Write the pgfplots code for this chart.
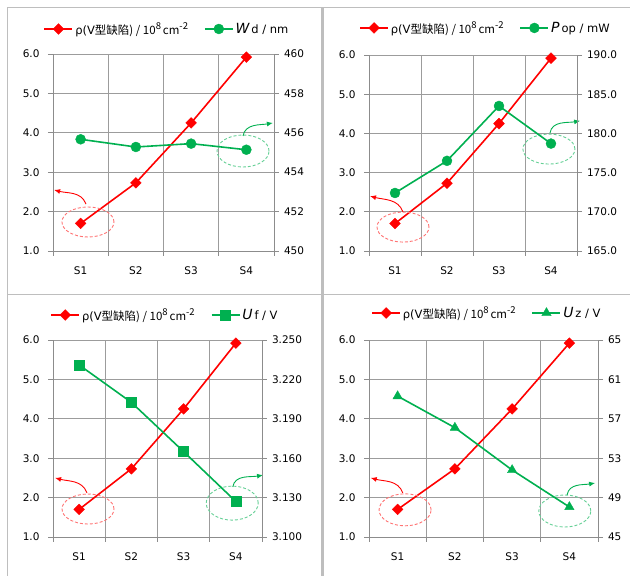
\documentclass[border=0pt]{standalone}
\usepackage{fontspec}
\setmainfont{DejaVu Sans}
\newfontfamily\cjk{Noto Sans CJK SC}
\usepackage{pgfplots}
\pgfplotsset{compat=1.18}
\usetikzlibrary{arrows.meta}
\definecolor{xlgreen}{HTML}{00B050}
\definecolor{gridgray}{HTML}{9C9C9C}
\definecolor{axisgray}{HTML}{8C8C8C}
\definecolor{bordergray}{HTML}{BEBEBE}

\pgfplotsset{
  panel/.style={
    scale only axis, clip=false,
    xmin=0, xmax=4,
    tick label style={font=\fontsize{10.5}{12}\selectfont, text=black},
    /pgf/number format/assume math mode=true,
    major tick length=5pt, minor tick length=5pt,
    tick align=outside,
    every tick/.style={draw=axisgray, line width=0.8pt},
    axis line style={draw=axisgray, line width=0.8pt},
  },
  leftax/.style={
    panel,
    axis x line*=bottom, axis y line*=left,
    ymin=1, ymax=6, ytick={1,2,3,4,5,6},
    yticklabel style={/pgf/number format/fixed,/pgf/number format/fixed zerofill,/pgf/number format/precision=1, xshift=-5pt},
    xtick={0.5,1.5,2.5,3.5}, xticklabels={S1,S2,S3,S4},
    xtick style={draw=none},
    xticklabel style={yshift=-7pt},
    minor xtick={0,1,2,3,4},
    minor x tick style={draw=axisgray, line width=0.8pt},
    ymajorgrids=true, xminorgrids=true, xmajorgrids=false,
    major grid style={draw=gridgray, line width=0.8pt},
    minor grid style={draw=gridgray, line width=0.8pt},
  },
  rightax/.style={
    panel,
    axis x line=none, axis y line*=right,
    xtick=\empty,
    yticklabel style={xshift=1.5pt},
    legend style={draw=none, fill=none, legend columns=2, anchor=center,
      font=\fontsize{11.5}{13}\selectfont,
      /tikz/every even column/.append style={column sep=14pt}},
    legend cell align=left,
    legend image code/.code={\draw[mark repeat=2,mark phase=2,##1] plot coordinates {(0pt,0pt)(14pt,0pt)(28pt,0pt)};},
  },
  redplot/.style={draw=red, line width=1.6pt, mark=square*, mark size=3.8pt,
    mark options={rotate=45, fill=red, draw=red, solid, line width=0.4pt}},
  greenplot/.style={draw=xlgreen, line width=1.6pt,
    mark options={fill=xlgreen, draw=xlgreen, solid, line width=0.4pt}},
}
\tikzset{
  redell/.style={draw=red!55, dash pattern=on 3pt off 2pt, line width=0.9pt},
  greenell/.style={draw=xlgreen!60, dash pattern=on 3pt off 2pt, line width=0.9pt},
  redarr/.style={draw=red, line width=0.9pt, -{Latex[length=6pt,width=5pt]}},
  greenarr/.style={draw=xlgreen, line width=0.9pt, -{Latex[length=6pt,width=5pt]}},
}
\newcommand{\sups}[1]{\raisebox{0.42em}{\fontsize{9.5}{9.5}\selectfont #1}}
\newcommand{\rholabel}{ρ(V\cjk{型缺陷}) / 10\sups{8}\,cm\sups{-2}}
\newcommand{\sym}[1]{{\fontsize{14}{14}\selectfont\itshape #1}\,}

\begin{document}
\begin{tikzpicture}
\path[use as bounding box] (0,0) rectangle (630pt,576pt);
% borders
\draw[bordergray, line width=1pt] (7pt,568pt) -- (630pt,568pt);
\draw[bordergray, line width=1pt] (7.5pt,568pt) -- (7.5pt,0pt);
\draw[bordergray, line width=1.5pt] (7pt,281.5pt) -- (630pt,281.5pt);
\draw[bordergray, line width=3.5pt] (322.5pt,568pt) -- (322.5pt,0pt);

% ---------- Panel 1 ----------
\begin{axis}[leftax, at={(53pt,325pt)}, anchor=south west, width=221pt, height=197pt]
\addplot[redplot] coordinates {(0.5,1.70)(1.5,2.73)(2.5,4.25)(3.5,5.92)};
\draw[redell] (axis cs:0.633,1.736) ellipse [x radius=26pt, y radius=15pt];
\draw[redarr] (axis cs:0.597,2.19) to[out=110,in=-15] (axis cs:0.02,2.55);
\draw[greenell] (axis cs:3.439,3.538) ellipse [x radius=26pt, y radius=16pt];
\draw[greenarr] (axis cs:3.439,3.92) to[out=80,in=190] (axis cs:3.98,4.25);
\end{axis}
\begin{axis}[rightax, at={(53pt,325pt)}, anchor=south west, width=221pt, height=197pt,
  ymin=450, ymax=460, ytick={450,452,454,456,458,460},
  legend style={at={(0.516,1.127)}}]
\addlegendimage{redplot}
\addlegendentry{\rholabel}
\addplot[greenplot, mark=*, mark size=5pt] coordinates {(0.5,455.67)(1.5,455.28)(2.5,455.45)(3.5,455.14)};
\addlegendentry{\sym{W}d / nm}
\end{axis}

% ---------- Panel 2 ----------
\begin{axis}[leftax, at={(369pt,325pt)}, anchor=south west, width=208pt, height=196pt]
\addplot[redplot] coordinates {(0.5,1.70)(1.5,2.73)(2.5,4.25)(3.5,5.92)};
\draw[redell] (axis cs:0.654,1.61) ellipse [x radius=26pt, y radius=15pt];
\draw[redarr] (axis cs:0.654,1.995) to[out=110,in=-15] (axis cs:0.02,2.40);
\draw[greenell] (axis cs:3.46,3.60) ellipse [x radius=26pt, y radius=15pt];
\draw[greenarr] (axis cs:3.48,4.01) to[out=80,in=190] (axis cs:4.06,4.32);
\end{axis}
\begin{axis}[rightax, at={(369pt,325pt)}, anchor=south west, width=208pt, height=196pt,
  ymin=165, ymax=190, ytick={165,170,175,180,185,190},
  yticklabel style={/pgf/number format/fixed,/pgf/number format/fixed zerofill,/pgf/number format/precision=1},
  legend style={at={(0.56,1.138)}}]
\addlegendimage{redplot}
\addlegendentry{\rholabel}
\addplot[greenplot, mark=*, mark size=5pt] coordinates {(0.5,172.4)(1.5,176.5)(2.5,183.5)(3.5,178.7)};
\addlegendentry{\sym{P}op / mW}
\end{axis}

% ---------- Panel 3 ----------
\begin{axis}[leftax, at={(53pt,39pt)}, anchor=south west, width=209pt, height=197pt]
\addplot[redplot] coordinates {(0.5,1.70)(1.5,2.73)(2.5,4.25)(3.5,5.92)};
\draw[redell] (axis cs:0.67,1.71) ellipse [x radius=26pt, y radius=15pt];
\draw[redarr] (axis cs:0.65,2.12) to[out=110,in=-15] (axis cs:0.04,2.50);
\draw[greenell] (axis cs:3.43,1.86) ellipse [x radius=26pt, y radius=17pt];
\draw[greenarr] (axis cs:3.44,2.27) to[out=80,in=190] (axis cs:4.02,2.57);
\end{axis}
\begin{axis}[rightax, at={(53pt,39pt)}, anchor=south west, width=209pt, height=197pt,
  ymin=3.1, ymax=3.25, ytick={3.1,3.13,3.16,3.19,3.22,3.25},
  yticklabel style={/pgf/number format/fixed,/pgf/number format/fixed zerofill,/pgf/number format/precision=3},
  legend style={at={(0.536,1.127)}}]
\addlegendimage{redplot}
\addlegendentry{\rholabel}
\addplot[greenplot, mark=square*, mark size=5pt] coordinates {(0.5,3.231)(1.5,3.2025)(2.5,3.165)(3.5,3.127)};
\addlegendentry{\sym{U}f / V}
\end{axis}

% ---------- Panel 4 ----------
\begin{axis}[leftax, at={(369pt,39pt)}, anchor=south west, width=229pt, height=197pt]
\addplot[redplot] coordinates {(0.5,1.70)(1.5,2.73)(2.5,4.25)(3.5,5.92)};
\draw[redell] (axis cs:0.63,1.69) ellipse [x radius=26pt, y radius=16pt];
\draw[redarr] (axis cs:0.59,2.12) to[out=110,in=-15] (axis cs:0.03,2.50);
\draw[greenell] (axis cs:3.42,1.66) ellipse [x radius=26pt, y radius=16pt];
\draw[greenarr] (axis cs:3.46,2.07) to[out=80,in=190] (axis cs:3.95,2.37);
\end{axis}
\begin{axis}[rightax, at={(369pt,39pt)}, anchor=south west, width=229pt, height=197pt,
  ymin=45, ymax=65, ytick={45,49,53,57,61,65},
  legend style={at={(0.515,1.137)}}]
\addlegendimage{redplot}
\addlegendentry{\rholabel}
\addplot[greenplot, mark=triangle*, mark size=5.4pt] coordinates {(0.5,59.3)(1.5,56.1)(2.5,51.8)(3.5,48.05)};
\addlegendentry{\sym{U}z / V}
\end{axis}
\end{tikzpicture}
\end{document}
